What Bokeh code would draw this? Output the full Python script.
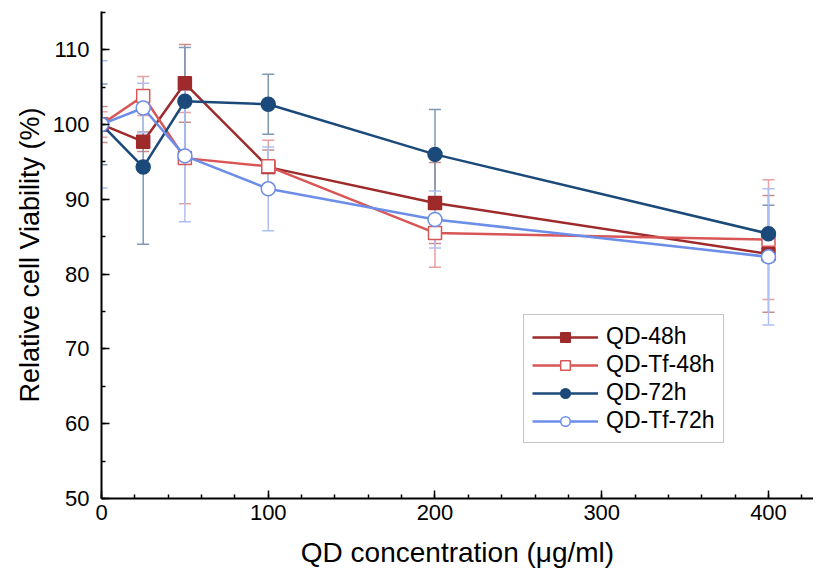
from bokeh.plotting import figure
from bokeh.models import Range1d, FixedTicker, Legend, LegendItem
from bokeh.embed import file_html
from bokeh.resources import INLINE

# ---- data ----
conc = [0, 25, 50, 100, 200, 400]
qd48 = [100, 97.7, 105.5, 94.3, 89.5, 82.7]
qd48_err = [2.4, 1.3, 5.2, 2.3, 5.4, 7.8]
qdtf48 = [100, 103.8, 95.5, 94.4, 85.5, 84.6]
qdtf48_err = [1.7, 2.6, 6.1, 3.5, 4.6, 8.0]
qd72 = [100, 94.3, 103.1, 102.7, 96.0, 85.4]
qd72_err = [5.4, 10.3, 7.2, 4.0, 6.0, 3.8]
qdtf72 = [100, 102.2, 95.8, 91.4, 87.3, 82.3]
qdtf72_err = [8.5, 3.3, 8.8, 5.6, 3.8, 9.1]

series_names = ["QD-48h", "QD-Tf-48h", "QD-72h", "QD-Tf-72h"]
x_ticks = [0, 100, 200, 300, 400]
y_ticks = [50, 60, 70, 80, 90, 100, 110]

FONT = "Liberation Sans"

p = figure(width=813, height=570, output_backend="svg", toolbar_location=None,
           x_range=Range1d(0, 427), y_range=Range1d(50, 115.1),
           min_border_left=101, min_border_right=0, min_border_top=11, min_border_bottom=67)
p.outline_line_color = None
p.grid.visible = False
p.background_fill_color = "white"

for ax in (p.xaxis[0], p.yaxis[0]):
    ax.axis_line_width = 2
    ax.axis_line_color = "black"
    ax.major_tick_in = 8
    ax.major_tick_out = 0
    ax.minor_tick_in = 4
    ax.minor_tick_out = 0
    ax.major_tick_line_width = 1.5
    ax.minor_tick_line_width = 1.5
    ax.major_label_text_font = FONT
    ax.major_label_text_font_size = "22px"
    ax.major_label_text_color = "black"
    ax.axis_label_text_font = FONT
    ax.axis_label_text_font_style = "normal"
    ax.axis_label_text_color = "black"

p.xaxis.axis_label_text_font_size = "28px"
p.yaxis.axis_label_text_font_size = "27px"
p.xaxis.ticker = FixedTicker(ticks=x_ticks, minor_ticks=list(range(0, 428, 20)))
p.yaxis.ticker = FixedTicker(ticks=y_ticks, minor_ticks=list(range(50, 116, 5)))
p.xaxis.axis_label = "QD concentration (\u03bcg/ml)"
p.yaxis.axis_label = "Relative cell Viability (%)"
p.xaxis.major_label_standoff = 6
p.yaxis.major_label_standoff = 12
p.xaxis.axis_label_standoff = 14
p.yaxis.axis_label_standoff = 5

specs = [
    (qd48, qd48_err, "#9e2a2b", "square", "#9e2a2b", "#c98a8a"),
    (qdtf48, qdtf48_err, "#d95656", "square", "white", "#e8a0a0"),
    (qd72, qd72_err, "#1b4a7a", "circle", "#1b4a7a", "#7d98b5"),
    (qdtf72, qdtf72_err, "#6d8ee8", "circle", "white", "#aebff2"),
]

CAP = 3.6  # half cap width in data units
for vals, errs, col, mk, fill, ecol in specs:
    up = [v + e for v, e in zip(vals, errs)]
    lo = [v - e for v, e in zip(vals, errs)]
    p.segment(x0=conc, y0=lo, x1=conc, y1=up, line_color=ecol, line_width=1.5)
    p.segment(x0=[c - CAP for c in conc], y0=up, x1=[c + CAP for c in conc], y1=up,
              line_color=ecol, line_width=1.5)
    p.segment(x0=[c - CAP for c in conc], y0=lo, x1=[c + CAP for c in conc], y1=lo,
              line_color=ecol, line_width=1.5)

items = []
for (vals, errs, col, mk, fill, ecol), name in zip(specs, series_names):
    lr = p.line(conc, vals, line_color=col, line_width=2.5)
    sr = p.scatter(conc, vals, marker=mk, size=14 if mk == "circle" else 13,
                   fill_color=fill, line_color=col, line_width=1.5)
    items.append(LegendItem(label=name, renderers=[lr, sr]))

legend = Legend(items=items, location=(422, 55))
legend.label_text_font = FONT
legend.label_text_font_size = "23px"
legend.label_text_color = "black"
legend.border_line_color = "#888888"
legend.border_line_width = 1.5
legend.padding = 8
legend.margin = 0
legend.spacing = 1
legend.label_height = 24
legend.glyph_height = 24
legend.glyph_width = 66
legend.label_standoff = 8
legend.background_fill_color = "white"
p.add_layout(legend, "center")

open("out.html", "w").write(file_html(p, INLINE))
